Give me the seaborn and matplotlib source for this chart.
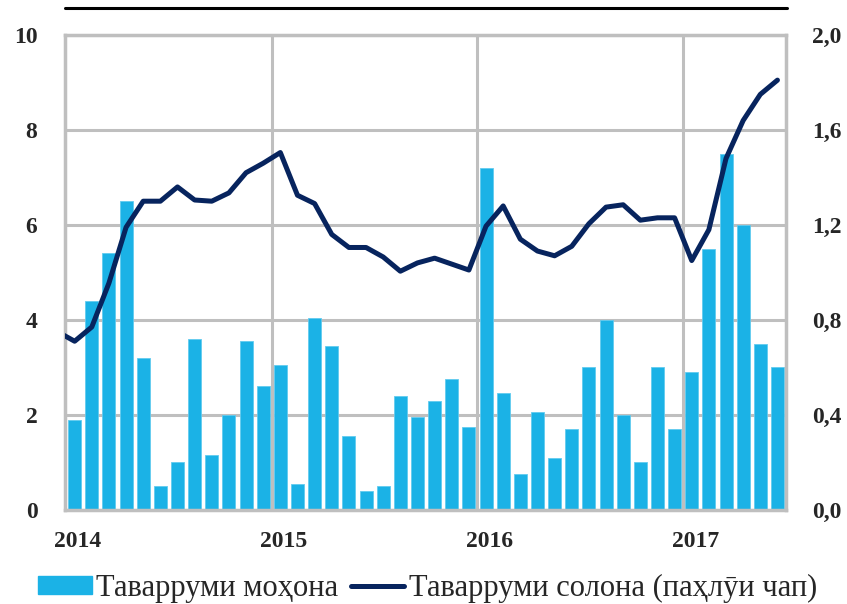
import numpy as np
import pandas as pd
import seaborn as sns
import matplotlib.pyplot as plt
from matplotlib.lines import Line2D
from matplotlib.patches import Patch

# monthly data, Jan 2014 .. Jun 2017
months = pd.period_range("2014-01", "2017-06", freq="M").astype(str).tolist()
monthly = [1.9, 4.4, 5.4, 6.5, 3.2, 0.5, 1.0, 3.6, 1.15, 2.0, 3.55, 2.6,
           3.05, 0.55, 4.05, 3.45, 1.55, 0.4, 0.5, 2.4, 1.95, 2.3, 2.75, 1.75,
           7.2, 2.45, 0.75, 2.05, 1.1, 1.7, 3.0, 4.0, 2.0, 1.0, 3.0, 1.7,
           2.9, 5.5, 7.5, 6.0, 3.5, 3.0]
# annual, right axis; first value is Dec 2013
annual = [0.75,
          0.71, 0.77, 0.955, 1.19, 1.30, 1.30, 1.36, 1.305, 1.30, 1.335, 1.42, 1.46,
          1.505, 1.325, 1.29, 1.16, 1.105, 1.105, 1.065, 1.005, 1.04, 1.06, 1.035, 1.01,
          1.195, 1.28, 1.14, 1.09, 1.07, 1.11, 1.205, 1.275, 1.285, 1.22, 1.23, 1.23,
          1.05, 1.18, 1.48, 1.64, 1.75, 1.81]
years = ["2014", "2015", "2016", "2017"]
left_ticks = [0, 2, 4, 6, 8, 10]
right_ticks = [0.0, 0.4, 0.8, 1.2, 1.6, 2.0]
bar_label = "Таварруми моҳона"
line_label = "Таварруми солона (паҳлӯи чап)"

bar_color = "#1BB2E6"
line_color = "#07245E"
grid_color = "#BFBFBF"

sns.set_theme(style="white")
plt.rcParams["font.family"] = ["Liberation Serif", "DejaVu Serif"]

df_bar = pd.DataFrame({"month": months, "value": monthly})
df_line = pd.DataFrame({"pos": np.arange(-1, len(months)), "value": annual})

fig, ax = plt.subplots(figsize=(8.47, 6.04), dpi=100)
fig.subplots_adjust(left=0.077, right=0.928, top=0.942, bottom=0.156)

sns.barplot(data=df_bar, x="month", y="value", color=bar_color, saturation=1,
            width=0.76, edgecolor="#62CBEF", linewidth=0.6, ax=ax, zorder=2)
ax.set_xlim(-0.55, len(months) - 0.54)
ax.set_ylim(0, 10)
ax.set_yticks(left_ticks)
ax.set_yticklabels([str(t) for t in left_ticks], fontsize=17, fontweight="bold")
ax.set_xlabel("")
ax.set_ylabel("")

# year labels at January, grid at year boundaries
jan = [i for i, m in enumerate(months) if m.endswith("-01")]
ax.set_xticks([j + 0.2 for j in jan])
ax.set_xticklabels(years, fontsize=17, fontweight="bold")
ax.tick_params(axis="y", length=0, pad=20)
ax.tick_params(axis="x", length=0, pad=15)
ax.set_axisbelow(True)
ax.grid(axis="y", color=grid_color, linewidth=2.2)
for j in jan[1:]:
    ax.axvline(j - 0.5, color=grid_color, linewidth=2.2, zorder=0)
ax.set_xticks([j + 5.5 for j in jan], minor=True)
ax.tick_params(axis="x", which="minor", direction="in", length=5, width=2, color=grid_color)

for s in ax.spines.values():
    s.set_color(grid_color)
    s.set_linewidth(2.5)

ax2 = ax.twinx()
sns.lineplot(data=df_line, x="pos", y="value", color=line_color, linewidth=3.6, ax=ax2)
ax2.set_ylim(0, 2.0)
ax2.set_yticks(right_ticks)
ax2.set_yticklabels([f"{t:.1f}".replace(".", ",") for t in right_ticks],
                    fontsize=17, fontweight="bold")
ax2.tick_params(axis="y", length=0, pad=19)
ax2.set_ylabel("")
ax2.grid(False)
for s in ax2.spines.values():
    s.set_visible(False)

handles = [Patch(facecolor=bar_color, edgecolor=bar_color),
           Line2D([0], [0], color=line_color, linewidth=3.6)]
fig.legend(handles, [bar_label, line_label], loc="center",
           bbox_to_anchor=(0.505, 0.026), ncol=2, frameon=False, fontsize=22,
           handlelength=1.75, handleheight=0.56, handletextpad=0.15,
           columnspacing=0.4, borderpad=0, borderaxespad=0)

fig.add_artist(Line2D([0.077, 0.929], [0.986, 0.986], transform=fig.transFigure,
                      color="black", linewidth=2.2))

fig.savefig("out.png", dpi=100)
